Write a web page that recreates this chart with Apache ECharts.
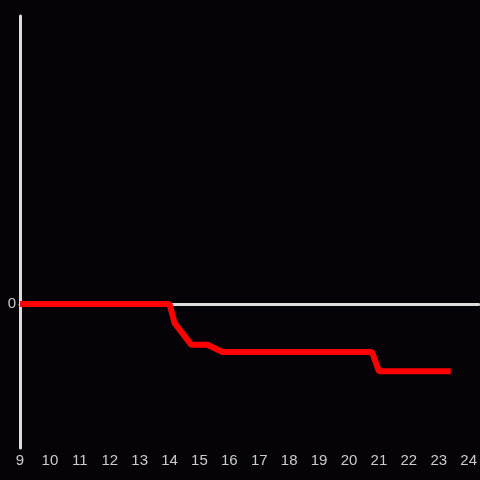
<!DOCTYPE html>
<html>
<head>
<meta charset="utf-8">
<script src="https://cdn.jsdelivr.net/npm/echarts@6/dist/echarts.min.js"></script>
<style>
  html, body { margin: 0; padding: 0; background: #050307; }
  #chart { width: 480px; height: 480px; }
</style>
</head>
<body>
<div id="chart"></div>
<script>
// hours of day (x) and values (y)
const hours = [9, 14, 14.17, 14.73, 15.27, 15.77, 20.77, 21, 23.4];
const values = [0, 0, -0.4, -0.85, -0.85, -1.0, -1.0, -1.4, -1.4];

let myChart = echarts.init(document.getElementById('chart'));
myChart.setOption({
    backgroundColor: '#050307',
    animation: false,
    grid: { left: 20, right: 0, top: 16, bottom: 32 },
    xAxis: {
        type: 'value',
        min: 9,
        max: 24 + 1 / 3,
        interval: 1,
        splitLine: { show: false },
        axisTick: { show: false },
        axisLine: { onZero: true, lineStyle: { color: '#dddddd', width: 3 } },
        axisLabel: {
            showMaxLabel: false,
            color: '#cccccc',
            fontSize: 15,
            margin: 5,
            fontFamily: 'Liberation Sans'
        }
    },
    yAxis: {
        type: 'value',
        min: -3,
        max: 6,
        interval: 3,
        splitLine: { show: false },
        axisTick: { show: false },
        axisLine: { show: true, lineStyle: { color: '#dddddd', width: 3 } },
        axisLabel: {
            color: '#cccccc',
            fontSize: 15,
            margin: 4,
            fontFamily: 'Liberation Sans',
            formatter: function (v) { return v === 0 ? '0' : ''; }
        }
    },
    series: [{
        type: 'line',
        data: hours.map((h, i) => [h, values[i]]),
        showSymbol: false,
        lineStyle: { color: '#ff0000', width: 6 },
        z: 3
    }]
});
</script>
</body>
</html>
